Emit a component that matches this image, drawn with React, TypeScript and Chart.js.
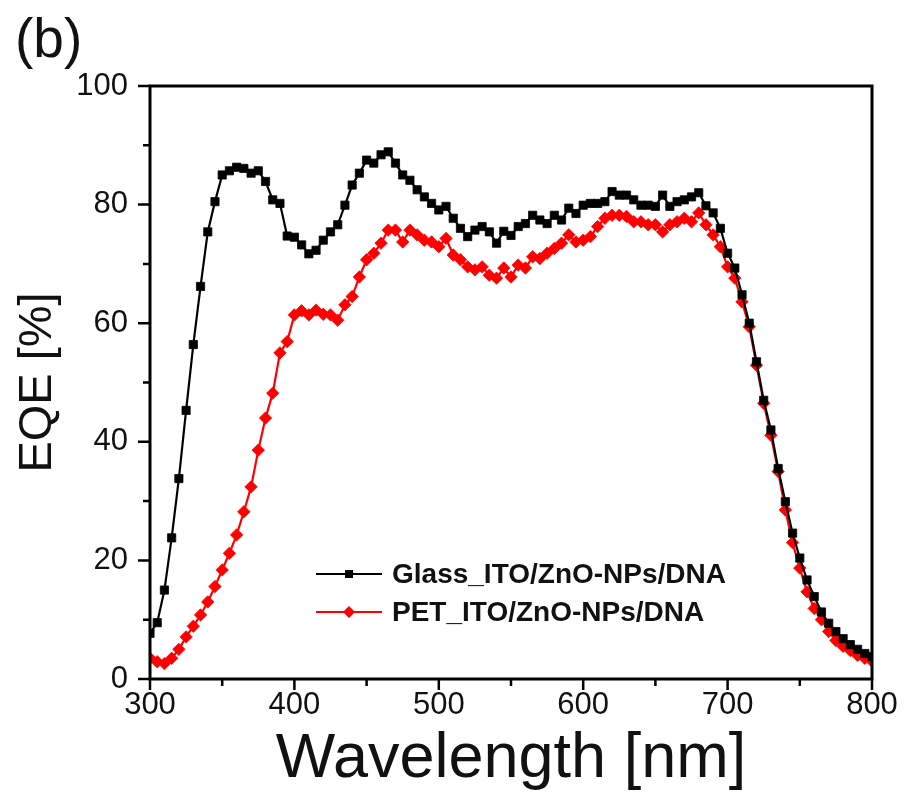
import React, { useEffect, useRef } from "react";
import { Chart, registerables } from "chart.js";

Chart.register(...registerables);

// Wavelength grid (nm)
const wavelengths = [
  300, 305, 310, 315, 320, 325, 330, 335, 340, 345,
  350, 355, 360, 365, 370, 375, 380, 385, 390, 395,
  400, 405, 410, 415, 420, 425, 430, 435, 440, 445,
  450, 455, 460, 465, 470, 475, 480, 485, 490, 495,
  500, 505, 510, 515, 520, 525, 530, 535, 540, 545,
  550, 555, 560, 565, 570, 575, 580, 585, 590, 595,
  600, 605, 610, 615, 620, 625, 630, 635, 640, 645,
  650, 655, 660, 665, 670, 675, 680, 685, 690, 695,
  700, 705, 710, 715, 720, 725, 730, 735, 740, 745,
  750, 755, 760, 765, 770, 775, 780, 785, 790, 795,
  800,
];

// EQE [%] of Glass_ITO/ZnO-NPs/DNA
const glassEQE = [
  7.7, 9.5, 15.0, 23.8, 33.8, 45.3, 56.4, 66.2, 75.4, 80.5,
  85.0, 85.7, 86.3, 86.1, 85.3, 85.7, 83.9, 80.8, 80.2, 74.7,
  74.5, 73.2, 71.7, 72.3, 74.0, 75.4, 76.6, 79.9, 83.3, 85.3,
  87.5, 87.0, 88.4, 88.9, 87.0, 85.0, 84.1, 82.5, 81.3, 80.2,
  79.1, 79.7, 77.7, 76.0, 74.6, 75.7, 76.3, 75.4, 73.5, 75.5,
  74.8, 76.3, 76.8, 78.2, 77.4, 76.8, 78.2, 77.4, 79.4, 78.5,
  79.9, 80.2, 80.2, 80.5, 82.2, 81.6, 81.6, 80.8, 79.9, 79.9,
  79.7, 81.6, 79.7, 80.5, 80.8, 81.3, 82.0, 79.8, 78.6, 76.0,
  71.8, 69.3, 64.8, 60.0, 53.5, 47.0, 42.0, 35.5, 29.9, 24.6,
  20.4, 16.7, 13.9, 11.3, 9.4, 8.0, 6.8, 5.8, 5.0, 4.3,
  3.8,
];

// EQE [%] of PET_ITO/ZnO-NPs/DNA
const petEQE = [
  3.5, 2.9, 2.6, 3.5, 5.0, 7.1, 8.9, 10.8, 13.0, 15.6,
  18.4, 21.2, 24.3, 28.2, 32.4, 38.6, 44.0, 48.2, 55.0, 56.9,
  61.4, 62.1, 61.4, 62.2, 61.5, 61.4, 60.5, 63.1, 64.5, 67.8,
  70.7, 71.8, 73.5, 75.7, 75.7, 73.7, 75.7, 74.9, 74.0, 73.7,
  72.9, 74.3, 71.5, 70.7, 69.5, 69.0, 69.5, 68.1, 67.6, 69.3,
  67.8, 69.8, 69.3, 71.2, 70.9, 71.8, 72.6, 73.5, 74.9, 73.7,
  74.0, 74.6, 76.3, 77.7, 78.2, 78.2, 78.0, 77.1, 77.1, 76.6,
  76.6, 75.4, 76.6, 77.1, 77.7, 77.1, 78.6, 76.6, 74.9, 72.9,
  69.5, 67.6, 63.6, 59.4, 52.9, 46.5, 41.1, 35.0, 28.5, 23.0,
  18.7, 14.7, 11.9, 10.0, 8.0, 6.5, 5.5, 4.8, 4.0, 3.5,
  3.0,
];

const seriesLabels = ["Glass_ITO/ZnO-NPs/DNA", "PET_ITO/ZnO-NPs/DNA"];
const xTickLabels = [300, 400, 500, 600, 700, 800];
const yTickLabels = [0, 20, 40, 60, 80, 100];
const xMinorTicks = [350, 450, 550, 650, 750];
const yMinorTicks = [10, 30, 50, 70, 90];

const FONT = "'Liberation Sans', Arial, Helvetica, sans-serif";

const framePlugin = {
  id: "frameAndTicks",
  afterDraw(chart: any) {
    const { ctx, chartArea: a, scales } = chart;
    const x = scales.x;
    const y = scales.y;
    ctx.save();
    ctx.strokeStyle = "#000";
    ctx.lineWidth = 2.5;
    ctx.beginPath();
    const tick = (px: number, len: number, horizontal: boolean) => {
      if (horizontal) {
        ctx.moveTo(px, a.bottom);
        ctx.lineTo(px, a.bottom + len);
      } else {
        ctx.moveTo(a.left, px);
        ctx.lineTo(a.left - len, px);
      }
    };
    xTickLabels.forEach((v) => tick(x.getPixelForValue(v), 11, true));
    xMinorTicks.forEach((v) => tick(x.getPixelForValue(v), 7, true));
    yTickLabels.forEach((v) => tick(y.getPixelForValue(v), 12, false));
    yMinorTicks.forEach((v) => tick(y.getPixelForValue(v), 7, false));
    ctx.stroke();
    ctx.lineWidth = 3;
    ctx.strokeRect(a.left, a.top, a.right - a.left, a.bottom - a.top);
    ctx.restore();
  },
};

const legendPlugin = {
  id: "insetLegend",
  afterDraw(chart: any) {
    const { ctx } = chart;
    const rows = [574, 612];
    const lineStart = 316;
    const lineEnd = 382;
    const textX = 392;
    ctx.save();
    chart.data.datasets.forEach((ds: any, i: number) => {
      const yy = rows[i];
      ctx.strokeStyle = ds.borderColor;
      ctx.lineWidth = 2.2;
      ctx.beginPath();
      ctx.moveTo(lineStart, yy);
      ctx.lineTo(lineEnd, yy);
      ctx.stroke();
      const cx = (lineStart + lineEnd) / 2;
      ctx.fillStyle = ds.pointBackgroundColor;
      ctx.beginPath();
      if (ds.pointStyle === "rect") {
        ctx.rect(cx - 4, yy - 4, 8, 8);
      } else {
        ctx.moveTo(cx, yy - 6);
        ctx.lineTo(cx + 6, yy);
        ctx.lineTo(cx, yy + 6);
        ctx.lineTo(cx - 6, yy);
        ctx.closePath();
      }
      ctx.fill();
      ctx.fillStyle = "#111";
      ctx.font = `bold 28px ${FONT}`;
      ctx.textAlign = "left";
      ctx.textBaseline = "middle";
      ctx.fillText(ds.label, textX, yy + 1);
    });
    ctx.restore();
  },
};

export default function App() {
  const canvasRef = useRef<HTMLCanvasElement | null>(null);

  useEffect(() => {
    const canvas = canvasRef.current;
    if (!canvas) return;
    const chart = new Chart(canvas, {
      type: "line",
      data: {
        datasets: [
          {
            label: seriesLabels[0],
            data: wavelengths.map((w, i) => ({ x: w, y: glassEQE[i] })),
            borderColor: "#000000",
            backgroundColor: "#000000",
            pointBackgroundColor: "#000000",
            pointBorderColor: "#000000",
            borderWidth: 2.2,
            pointStyle: "rect",
            pointRadius: 5.8,
            pointBorderWidth: 0.8,
            tension: 0,
          },
          {
            label: seriesLabels[1],
            data: wavelengths.map((w, i) => ({ x: w, y: petEQE[i] })),
            borderColor: "#ff0000",
            backgroundColor: "#ff0000",
            pointBackgroundColor: "#ff0000",
            pointBorderColor: "#ff0000",
            borderWidth: 2.2,
            pointStyle: "rectRot",
            pointRadius: 6.2,
            pointBorderWidth: 0.8,
            tension: 0,
          },
        ],
      },
      options: {
        responsive: false,
        animation: false,
        events: [],
        layout: { padding: { top: 86, right: 35, left: 0, bottom: 0 } },
        plugins: {
          legend: { display: false },
          tooltip: { enabled: false },
        },
        scales: {
          x: {
            type: "linear",
            min: 300,
            max: 800,
            afterFit: (s: any) => {
              s.height = 129;
            },
            afterBuildTicks: (s: any) => {
              s.ticks = xTickLabels.map((v) => ({ value: v }));
            },
            grid: { display: false, drawTicks: false },
            border: { display: false },
            ticks: {
              padding: 8,
              color: "#111",
              font: { family: FONT, size: 31 },
              maxRotation: 0,
              autoSkip: false,
            },
            title: {
              display: true,
              text: "Wavelength [nm]",
              color: "#111",
              font: { family: FONT, size: 63 },
              padding: { top: 0, bottom: 11 },
            },
          },
          y: {
            type: "linear",
            min: 0,
            max: 100,
            afterFit: (s: any) => {
              s.width = 150;
            },
            afterBuildTicks: (s: any) => {
              s.ticks = yTickLabels.map((v) => ({ value: v }));
            },
            grid: { display: false, drawTicks: false },
            border: { display: false },
            ticks: {
              padding: 22,
              color: "#111",
              font: { family: FONT, size: 31 },
              autoSkip: false,
            },
            title: {
              display: true,
              text: "EQE [%]",
              color: "#111",
              font: { family: FONT, size: 47 },
              padding: { top: 10, bottom: 0 },
            },
          },
        },
      },
      plugins: [framePlugin, legendPlugin],
    });
    return () => chart.destroy();
  }, []);

  return (
    <div
      style={{
        position: "absolute",
        left: 0,
        top: 0,
        width: 907,
        height: 808,
        background: "#fff",
      }}
    >
      <canvas ref={canvasRef} width={907} height={808} />
      <div
        style={{
          position: "absolute",
          left: 15,
          top: 11,
          fontFamily: FONT,
          fontSize: 55,
          lineHeight: 1,
          color: "#111",
        }}
      >
        (b)
      </div>
    </div>
  );
}
